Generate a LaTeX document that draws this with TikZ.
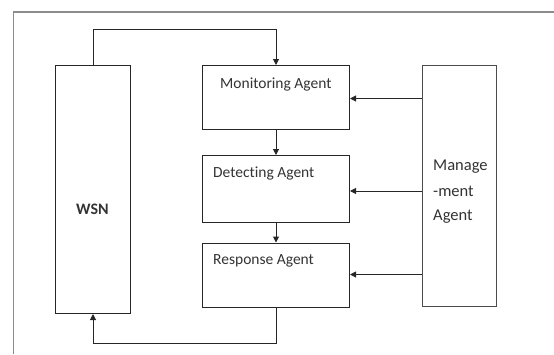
\documentclass[tikz,border=0pt]{standalone}
\usepackage{fontspec}
\setmainfont[Ligatures=NoCommon]{Carlito}
\usetikzlibrary{arrows.meta}
\begin{document}
\begin{tikzpicture}[x=1pt,y=-1pt,
  box/.style={draw=black!85,line width=1pt,anchor=north west,inner sep=0pt},
  lbl/.style={text=black!80,font=\fontsize{15.5}{17}\selectfont,inner sep=0pt},
  mlbl/.style={lbl,font=\fontsize{16.5}{18}\selectfont},
  link/.style={draw=black!85,line width=1pt,-{Triangle[length=6pt,width=6pt]}}]
\useasboundingbox (0,0) rectangle (554,354);
% outer frame (open at right and bottom)
\draw[black!45,line width=1.2pt] (13.5,354) -- (13.5,12) -- (554,12);
% boxes
\node[box,minimum width=75pt,minimum height=248pt] (wsn) at (55,65) {};
\node[box,minimum width=147pt,minimum height=64pt] (mon) at (202,65) {};
\node[box,minimum width=147pt,minimum height=67pt] (det) at (202,155) {};
\node[box,minimum width=147pt,minimum height=64pt] (res) at (202,242.5) {};
\node[box,draw=black!70,minimum width=74.5pt,minimum height=241pt] (man) at (421.5,65) {};
% labels
\node[lbl,anchor=west] (tmon) at (220,84) {Monitoring Agent};
\node[lbl,anchor=west] (tdet) at (213,173) {Detecting Agent};
\node[lbl,anchor=west] (tres) at (213,261) {Response Agent};
\node[lbl,font=\bfseries\fontsize{16}{17}\selectfont] (twsn) at (92.5,209) {WSN};
\node[mlbl,anchor=west] (tm1) at (433,166.5) {Manage};
\node[mlbl,anchor=west] (tm2) at (433,191.5) {-ment};
\node[mlbl,anchor=west] (tm3) at (433,217) {Agent};
% chain of agents
\draw[link] (mon.south) -- (det.north);
\draw[link] (det.south) -- (res.north);
% management to agents
\draw[link] (man.west |- 0,98.5) -- (mon.east |- 0,98.5);
\draw[link] (man.west |- 0,191) -- (det.east |- 0,191);
\draw[link] (man.west |- 0,274.5) -- (res.east |- 0,274.5);
% feedback loops with the WSN
\coordinate (top) at (0,29);
\coordinate (bot) at (0,343);
\draw[link] (wsn.north) -- (wsn.north |- top) -- (mon.north |- top) -- (mon.north);
\draw[link] (res.south) -- (res.south |- bot) -- (wsn.south |- bot) -- (wsn.south);
\end{tikzpicture}
\end{document}
